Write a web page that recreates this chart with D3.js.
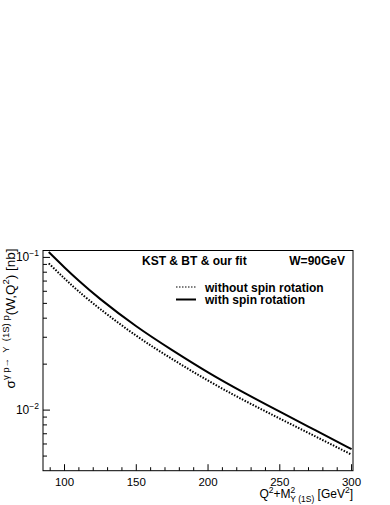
<!DOCTYPE html>
<html>
  <head>
    <meta charset="utf-8" />
    <title>sigma vs Q2+M2</title>
    <style>
      body { margin: 0; background: #fff; }
      text { font-family: "Liberation Sans", Arial, sans-serif; }
    </style>
  </head>
  <body>
  <div id="container"></div>
  <script src="https://cdn.jsdelivr.net/npm/d3@7"></script>
  <script type="text/javascript">

    // values
    var qm2 = [89, 100, 110, 125, 150, 175, 200, 225, 250, 275, 300];
    var withSpin = [0.1084, 0.0859, 0.0703, 0.0533, 0.0354, 0.0247, 0.01766, 0.01301, 0.00976, 0.00736, 0.00555];
    var withoutSpin = [0.0914, 0.0728, 0.0598, 0.0458, 0.0307, 0.0216, 0.01560, 0.01160, 0.00880, 0.00671, 0.00511];
    var xTicks = [100, 150, 200, 250, 300];
    var yTicks = [0.01, 0.1];
    var yTickExp = ["\u22122", "\u22121"];
    var legendLabels = ["without spin rotation", "with spin rotation"];

    var width = 390;
    var height = 505;
    var frame = {left: 43, right: 353, top: 250.5, bottom: 470.7};

    var svg = d3.select('#container').append('svg')
      .attr('width', width).attr('height', height);

    var x = d3.scaleLinear().domain([85, 301]).range([frame.left, frame.right]);
    var y = d3.scaleLog().domain([0.00401, 0.111]).range([frame.bottom, frame.top]);

    // frame
    svg.append('rect')
      .attr('x', frame.left).attr('y', frame.top)
      .attr('width', frame.right - frame.left).attr('height', frame.bottom - frame.top)
      .attr('fill', 'none').attr('stroke', '#000').attr('stroke-width', 1);

    // x axis, ticks pointing inside
    var xMinor = d3.range(90, 301, 10);
    svg.append('g').selectAll('line').data(xMinor).enter().append('line')
      .attr('x1', function(d){ return x(d); }).attr('x2', function(d){ return x(d); })
      .attr('y1', frame.bottom)
      .attr('y2', function(d){ return frame.bottom - (d % 50 === 0 ? 6.5 : 3.5); })
      .attr('stroke', '#000').attr('stroke-width', 1);
    svg.append('g').selectAll('text').data(xTicks).enter().append('text')
      .attr('x', function(d){ return x(d); }).attr('y', frame.bottom + 15)
      .attr('text-anchor', 'middle').attr('font-size', 11.5).text(function(d){ return d; });

    // y axis (log), minor ticks 2..9 per decade
    var yMinor = [];
    [0.001, 0.01, 0.1].forEach(function(dec){
      for (var k = 1; k <= 9; k++) {
        var v = dec * k;
        if (v >= 0.00401 && v <= 0.111) yMinor.push(v);
      }
    });
    svg.append('g').selectAll('line').data(yMinor).enter().append('line')
      .attr('y1', function(d){ return y(d); }).attr('y2', function(d){ return y(d); })
      .attr('x1', frame.left)
      .attr('x2', function(d){ return frame.left + (yTicks.some(function(t){ return Math.abs(t - d) < 1e-9; }) ? 7 : 4); })
      .attr('stroke', '#000').attr('stroke-width', 1);
    var yl = svg.append('g').selectAll('text').data(yTicks).enter().append('text')
      .attr('x', frame.left - 4).attr('y', function(d){ return y(d) + 4; })
      .attr('text-anchor', 'end').attr('font-size', 12);
    yl.append('tspan').text('10');
    yl.append('tspan').attr('dy', -5).attr('font-size', 8.5)
      .text(function(d, i){ return yTickExp[i]; });

    // curves
    var line = d3.line()
      .x(function(d){ return x(d[0]); })
      .y(function(d){ return y(d[1]); })
      .curve(d3.curveNatural);
    svg.append('path').datum(d3.zip(qm2, withoutSpin))
      .attr('d', line).attr('fill', 'none').attr('stroke', '#000')
      .attr('stroke-width', 2).attr('stroke-dasharray', '1.5,1.5');
    svg.append('path').datum(d3.zip(qm2, withSpin))
      .attr('d', line).attr('fill', 'none').attr('stroke', '#000')
      .attr('stroke-width', 2);

    // header texts
    svg.append('text').attr('x', 142).attr('y', 265)
      .attr('font-size', 12).attr('font-weight', 'bold').text('KST & BT & our fit');
    svg.append('text').attr('x', 345).attr('y', 265).attr('text-anchor', 'end')
      .attr('font-size', 12).attr('font-weight', 'bold').text('W=90GeV');

    // legend
    var leg = svg.append('g').selectAll('g').data(legendLabels).enter().append('g')
      .attr('transform', function(d, i){ return 'translate(176,' + (287 + i * 12.5) + ')'; });
    leg.append('line').attr('x1', 0).attr('x2', 20).attr('y1', 0).attr('y2', 0)
      .attr('stroke', '#000').attr('stroke-width', function(d, i){ return i ? 2 : 1.2; })
      .attr('stroke-dasharray', function(d, i){ return i ? null : '1.5,1.5'; });
    leg.append('text').attr('x', 29).attr('y', 4.5)
      .attr('font-size', 12).attr('font-weight', 'bold').text(function(d){ return d; });

    // x label
    var xl = svg.append('text').attr('x', frame.right).attr('y', 498)
      .attr('text-anchor', 'end').attr('font-size', 12);
    xl.append('tspan').text('Q');
    xl.append('tspan').attr('dy', -5).attr('font-size', 8.5).text('2');
    xl.append('tspan').attr('dy', 5).text('+M');
    xl.append('tspan').attr('dy', -5).attr('font-size', 8.5).text('2');
    xl.append('tspan').attr('dx', -5).attr('dy', 9).attr('font-size', 8.5).text('\u03a5 (1S)');
    xl.append('tspan').attr('dy', -4).text(' [GeV');
    xl.append('tspan').attr('dy', -5).attr('font-size', 8.5).text('2');
    xl.append('tspan').attr('dy', 5).text(']');

    // y label, rotated
    var ylab = svg.append('text')
      .attr('transform', 'translate(14.5,' + (frame.top - 2) + ') rotate(-90)')
      .attr('text-anchor', 'end').attr('font-size', 13.5);
    ylab.append('tspan').text('\u03c3');
    ylab.append('tspan').attr('dy', -5.5).attr('font-size', 9.5)
      .attr('xml:space', 'preserve').text('\u03b3 p\u2192  \u03a5  (1S) p');
    ylab.append('tspan').attr('dy', 5.5).text('(W,Q');
    ylab.append('tspan').attr('dy', -5.5).attr('font-size', 9.5).text('2');
    ylab.append('tspan').attr('dy', 5.5).text(') [nb]');

  </script>
  </body>
</html>
